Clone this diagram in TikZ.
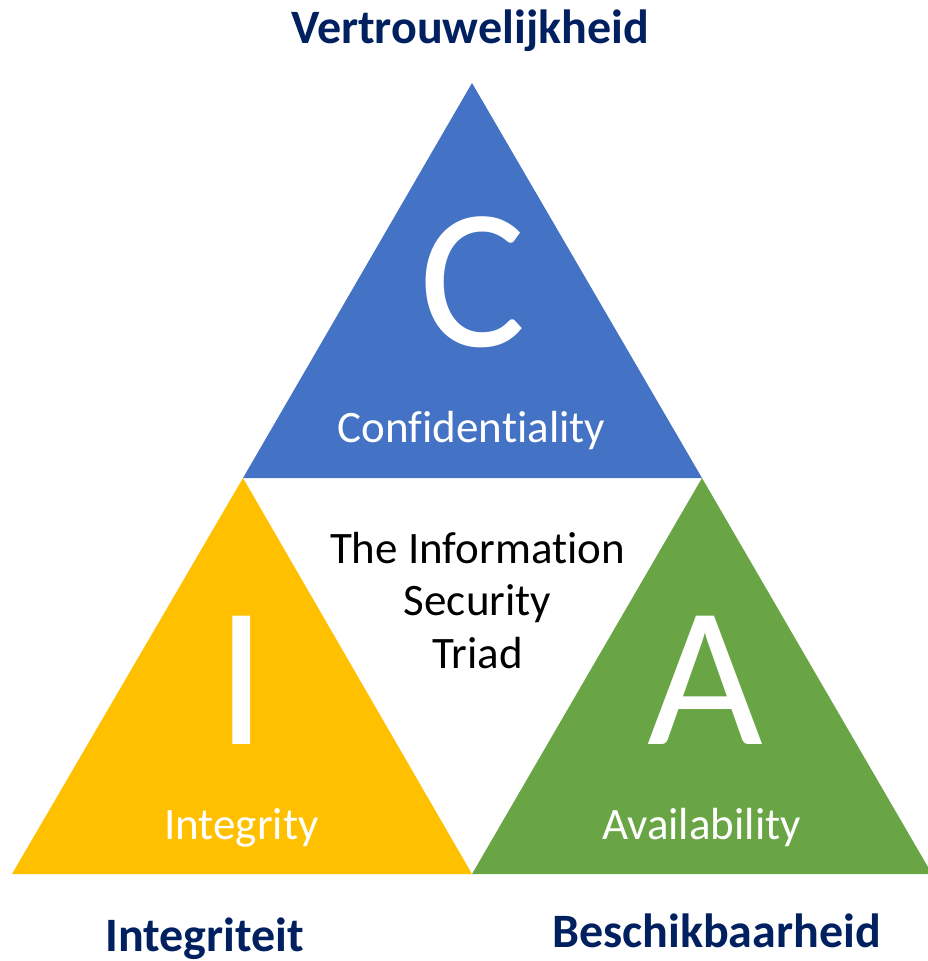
\documentclass[tikz,border=0pt]{standalone}
\usepackage{fontspec}
\setmainfont{Carlito}[Ligatures=NoCommon]
\definecolor{cblue}{HTML}{4472C4}
\definecolor{cyellow}{HTML}{FFC000}
\definecolor{cgreen}{HTML}{6AA545}
\definecolor{navy}{HTML}{002060}
\tikzset{
  dutch/.style={font=\fontsize{48}{52}\selectfont\bfseries, text=navy, anchor=base, inner sep=0pt},
  bigletter/.style={font=\fontsize{200}{200}\selectfont, text=white, anchor=base, inner sep=0pt},
  eng/.style={font=\fontsize{45}{48}\selectfont, text=white, anchor=base, inner sep=0pt},
  centertxt/.style={font=\fontsize{45}{48}\selectfont, text=black, anchor=base, inner sep=0pt}
}
\begin{document}
\begin{tikzpicture}[x=1pt,y=-1pt]
\useasboundingbox (0,0) rectangle (928,961);
\fill[white] (0,0) rectangle (928,961);
\coordinate (topapex) at (472,83);
\coordinate (midL) at (243,478);
\coordinate (midR) at (702,478);
\coordinate (botL) at (12,874);
\coordinate (botM) at (472,874);
\coordinate (botR) at (932,874);
\fill[cblue] (topapex) -- (midR) -- (midL) -- cycle;
\fill[cyellow] (midL) -- (botM) -- (botL) -- cycle;
\fill[cgreen] (midR) -- (botR) -- (botM) -- cycle;

\node[bigletter] (C) at (473,346) {C};
\node[bigletter] (I) at (242,744) {I};
\node[bigletter] (A) at (705,744) {A};

\node[eng] (conf) at (471.5,442) {Confidentiality};
\node[eng] (integ) at (241.5,839) {Integrity};
\node[eng] (avail) at (701.5,839) {Availability};

\node[centertxt] (t1) at (477.5,563) {The Information};
\node[centertxt] (t2) at (477.5,615) {Security};
\node[centertxt] (t3) at (477.5,668) {Triad};

\node[dutch] (vert) at (470,43) {Vertrouwelijkheid};
\node[dutch] (integr) at (204.5,951) {Integriteit};
\node[dutch] (besch) at (716.5,947) {Beschikbaarheid};
\end{tikzpicture}
\end{document}
